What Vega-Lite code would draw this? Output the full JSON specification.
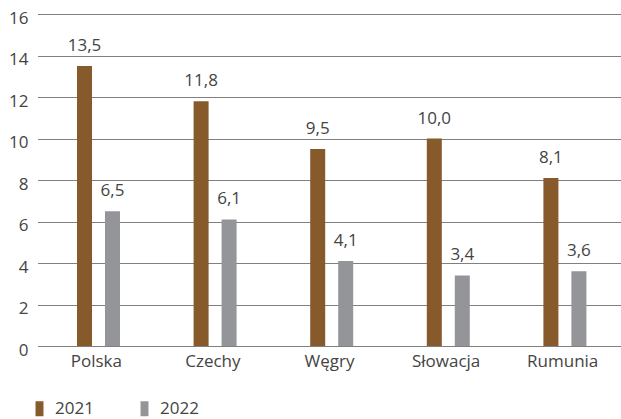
{
  "$schema": "https://vega.github.io/schema/vega-lite/v6.json",
  "width": 583,
  "height": 332,
  "autosize": {"type": "none"},
  "padding": {"left": 38, "top": 14, "right": 0, "bottom": 73},
  "background": "white",
  "config": {
    "view": {"stroke": null},
    "font": "Open Sans",
    "locale": {"number": {"decimal": ",", "thousands": " ", "grouping": [3], "currency": ["", " zł"]}}
  },
  "data": {
    "values": [
      {"kraj": "Polska", "rok": "2021", "v": 13.5},
      {"kraj": "Polska", "rok": "2022", "v": 6.5},
      {"kraj": "Czechy", "rok": "2021", "v": 11.8},
      {"kraj": "Czechy", "rok": "2022", "v": 6.1},
      {"kraj": "Węgry", "rok": "2021", "v": 9.5},
      {"kraj": "Węgry", "rok": "2022", "v": 4.1},
      {"kraj": "Słowacja", "rok": "2021", "v": 10.0},
      {"kraj": "Słowacja", "rok": "2022", "v": 3.4},
      {"kraj": "Rumunia", "rok": "2021", "v": 8.1},
      {"kraj": "Rumunia", "rok": "2022", "v": 3.6}
    ]
  },
  "encoding": {
    "x": {
      "field": "kraj", "type": "nominal", "sort": null, "title": null,
      "scale": {"paddingInner": 0, "paddingOuter": 0},
      "axis": {"domain": false, "ticks": false, "labelAngle": 0, "labelFontSize": 17, "labelColor": "#444", "labelPadding": 7}
    },
    "xOffset": {
      "field": "rok", "type": "nominal",
      "scale": {"range": [39, 82], "paddingInner": 0.464, "paddingOuter": 0}
    },
    "y": {
      "field": "v", "type": "quantitative", "title": null,
      "scale": {"domain": [0, 16]},
      "axis": {
        "values": [0, 2, 4, 6, 8, 10, 12, 14, 16],
        "domain": false, "ticks": false, "grid": true,
        "gridDash": [1, 1], "gridColor": "#000", "gridWidth": 1,
        "labelFontSize": 17, "labelColor": "#444", "labelPadding": 10, "labelOffset": 4
      }
    }
  },
  "layer": [
    {
      "mark": {"type": "bar"},
      "encoding": {
        "color": {
          "field": "rok", "type": "nominal",
          "scale": {"domain": ["2021", "2022"], "range": ["#865a2b", "#939598"]},
          "legend": {
            "title": null, "orient": "none", "direction": "horizontal",
            "legendX": -7, "legendY": 386,
            "symbolType": "M-0.53,-1H0.53V1H-0.53Z", "symbolSize": 225, "symbolOpacity": 1,
            "labelFontSize": 17, "labelColor": "#444", "labelOffset": 7, "columnPadding": 42
          }
        }
      }
    },
    {
      "mark": {"type": "text", "baseline": "bottom", "dy": -11, "fontSize": 17, "color": "#444"},
      "encoding": {"text": {"field": "v", "type": "quantitative", "format": ".1f"}}
    }
  ]
}
